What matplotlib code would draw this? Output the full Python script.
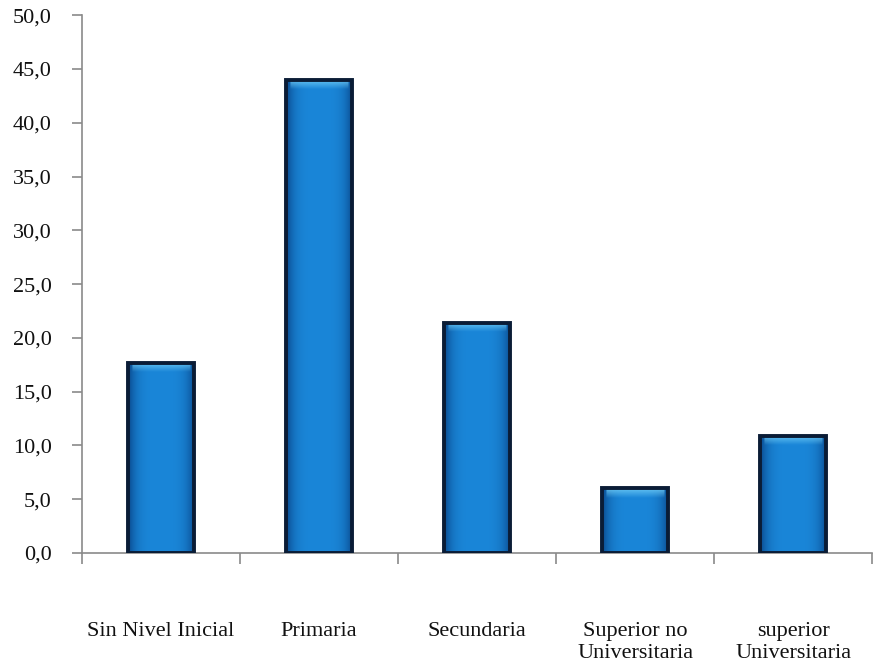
import matplotlib.pyplot as plt
import numpy as np
from matplotlib.colors import to_rgb
from matplotlib.ticker import FixedLocator, FuncFormatter

categories = ["Sin Nivel Inicial", "Primaria", "Secundaria",
              "Superior no\nUniversitaria", "superior\nUniversitaria"]
values = [17.7, 44.0, 21.4, 6.0, 10.9]
y_ticks = [0, 5, 10, 15, 20, 25, 30, 35, 40, 45, 50]

plt.rcParams['font.family'] = ['Liberation Serif', 'DejaVu Serif']

fig = plt.figure(figsize=(8.73, 6.63), dpi=100)
ax = fig.add_axes([0.094, 0.166, 0.905, 0.811])

x = np.arange(len(categories))
bar_width = 0.42
bars = ax.bar(x, values, width=bar_width, color='#1878c8',
              edgecolor='none', zorder=2)

# shaded fill: darker sides, lighter top band
dark = np.array(to_rgb('#0a4a8e'))
mid = np.array(to_rgb('#1a86d8'))
light = np.array(to_rgb('#74d0f8'))
cols = np.linspace(-1, 1, 60)
profile = 1 - np.abs(cols) ** 4
for rect, v in zip(bars, values):
    rows = 400
    img = np.zeros((rows, len(cols), 3))
    for c in range(3):
        img[:, :, c] = dark[c] + (mid[c] - dark[c]) * profile[None, :]
    top_rows = int(rows * 0.9 / v)
    for r in range(top_rows):
        t = 1 - r / max(top_rows, 1)
        img[r, 4:-4, :] = img[r, 4:-4, :] * (1 - 0.85 * t) + light * 0.85 * t
    x0 = rect.get_x()
    im = ax.imshow(img, extent=(x0, x0 + bar_width, 0, v), aspect='auto',
                   zorder=3, interpolation='bilinear')
    im.set_clip_path(rect)

# dark outline on top of the shading
ax.bar(x, values, width=bar_width, facecolor='none',
       edgecolor='#0a1c36', linewidth=2.8, zorder=4)

ax.set_xlim(-0.5, len(categories) - 0.5)
ax.set_ylim(0, 50)

ax.spines['top'].set_visible(False)
ax.spines['right'].set_visible(False)
for s in ('left', 'bottom'):
    ax.spines[s].set_color('#8a8a8a')
    ax.spines[s].set_linewidth(1.2)

ax.yaxis.set_major_locator(FixedLocator(y_ticks))
ax.yaxis.set_major_formatter(FuncFormatter(lambda v, p: f"{v:.1f}".replace('.', ',')))
ax.tick_params(axis='y', direction='out', length=7, width=1.2, color='#8a8a8a',
               pad=15, labelsize=16, labelcolor='#111111')

# category boundaries carry the tick marks, centres carry the labels
ax.xaxis.set_major_locator(FixedLocator(np.arange(len(categories) + 1) - 0.5))
ax.xaxis.set_major_formatter(FuncFormatter(lambda v, p: ''))
ax.xaxis.set_minor_locator(FixedLocator(x))
ax.set_xticklabels(categories, minor=True, linespacing=1.2)
ax.tick_params(axis='x', which='minor', length=0, pad=50, labelsize=16,
               labelcolor='#111111')
ax.tick_params(axis='x', which='major', direction='out', length=8, width=1.2,
               color='#8a8a8a')

fig.savefig('out.png', dpi=100)
